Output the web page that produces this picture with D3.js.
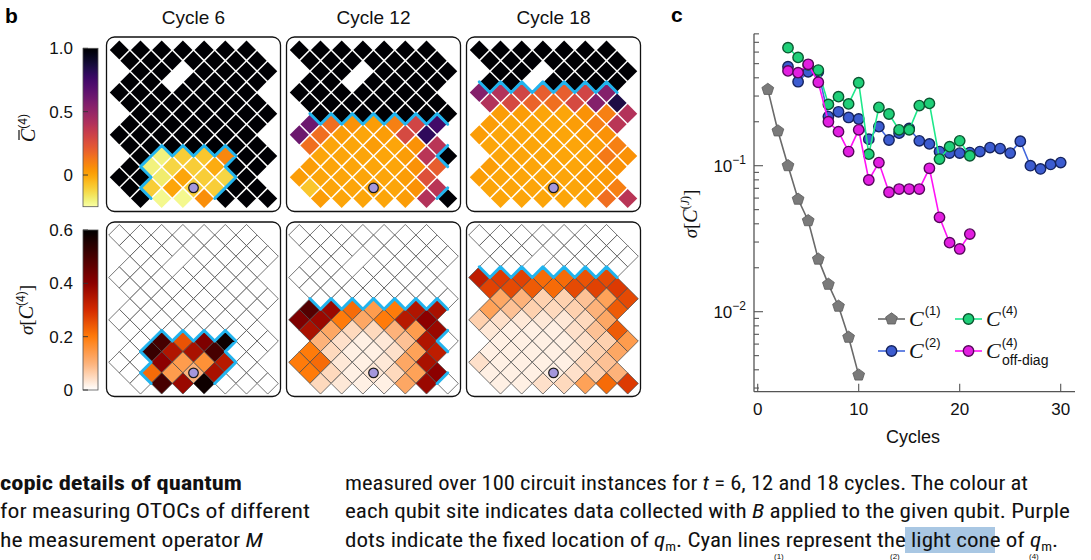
<!DOCTYPE html>
<html><head><meta charset="utf-8">
<script src="https://cdn.jsdelivr.net/npm/d3@7"></script>
<style>body{margin:0;background:#fff}svg{display:block}</style>
</head><body>
<svg id="fig" width="1091" height="560"></svg>
<script>
// ---------------- DATA ----------------
const cycleLabels = ["Cycle 6", "Cycle 12", "Cycle 18"];
// qubit layout: 15 rows x 7 sites, first column index of each row (columns step by 2)
const rowStartCol = [0,1,2,1,0,1,2,1,0,1,2,1,0,1,2];
const missingSites = [[2,6],[3,5]];      // [row, col]
const measureQubit = [13,7];              // [row, col]

// light cone masks (row strings, one char per site)
const lightCone6  = ["0000000","0000000","0000000","0000000","0000000","0000000","0000000","0000000","0000000","0000000","0111100","0111100","0011110","0111100","0111000"];
const lightCone12 = ["0000000","0000000","0000000","0000000","0000000","0000000","0000000","1111111","1111111","1111111","1111110","1111111","1111111","1111111","1111110"];
const lightCone18 = ["0000000","0000000","0000000","0000000","1111111","1111111","1111111","1111111","1111111","1111111","1111111","1111111","1111111","1111111","1111111"];

// mean C(4) per site
const meanC4_cycle6 = [
 [1,1,1,1,1,1,1],[1,1,1,1,1,1,1],[1,1,null,1,1,1,1],[1,1,null,1,1,1,1],[1,1,1,1,1,1,1],
 [1,1,1,1,1,1,1],[1,1,1,1,1,1,1],[1,1,1,1,1,1,1],[1,1,1,1,1,1,1],[1,1,1,1,1,1,1],
 [1,-0.2,-0.1,-0.08,0.08,1,1],
 [1,-0.2,-0.12,-0.1,-0.02,1,1],
 [1,1,-0.18,0.0,-0.1,-0.12,1],
 [1,-0.1,0.0,-0.1,-0.1,1,1],
 [1,-0.22,-0.22,0.06,1,1,1]];
const meanC4_cycle12 = [
 [1,1,1,1,1,1,1],[1,1,1,1,1,1,1],[1,1,null,1,1,1,1],[1,1,null,1,1,1,1],[1,1,1,1,1,1,1],
 [1,1,1,1,1,1,1],[1,1,1,1,1,1,1],
 [0.62,0.15,0.05,0.02,0.1,0.3,0.75],
 [0.62,0.15,0.02,0.0,0.02,0.28,0.8],
 [0.15,0.0,0.0,0.02,0.0,0.05,0.38],
 [0.0,0.0,0.0,0.0,0.02,0.38,1],
 [0.02,0.0,0.0,0.0,0.0,0.05,0.2],
 [0.02,0.0,0.0,0.0,0.0,0.02,0.25],
 [-0.08,0.0,0.0,0.0,0.0,0.05,0.38],
 [0.02,0.0,0.0,0.0,0.02,0.4,1]];
const meanC4_cycle18 = [
 [1,1,1,1,1,1,1],[1,1,1,1,1,1,1],[1,1,null,1,1,1,1],[1,1,null,1,1,1,1],
 [0.55,0.4,0.3,0.2,0.2,0.3,0.55],
 [0.4,0.28,0.18,0.15,0.28,0.55,0.85],
 [0.02,0.02,0.0,0.0,0.05,0.1,0.4],
 [0.02,0.0,0.0,0.0,0.02,0.1,0.38],
 [0.02,0.0,0.0,0.0,0.0,0.02,0.05],
 [0.0,0.0,0.0,0.0,0.0,0.02,0.1],
 [0.0,0.0,0.0,0.0,0.0,0.12,0.05],
 [0.02,0.0,0.0,0.0,0.0,0.02,0.05],
 [0.02,0.0,0.0,0.0,0.0,0.02,0.03],
 [0.0,0.0,0.0,0.0,0.0,0.02,0.1],
 [0.0,0.0,0.0,0.0,0.0,0.15,0.38]];

// sigma[C(4)] per site
const sigmaC4_cycle6 = [
 [0,0,0,0,0,0,0],[0,0,0,0,0,0,0],[0,0,null,0,0,0,0],[0,0,null,0,0,0,0],[0,0,0,0,0,0,0],
 [0,0,0,0,0,0,0],[0,0,0,0,0,0,0],[0,0,0,0,0,0,0],[0,0,0,0,0,0,0],[0,0,0,0,0,0,0],
 [0,0.5,0.25,0.42,0.58,0,0],
 [0,0.52,0.35,0.36,0.5,0,0],
 [0,0,0.4,0.14,0.16,0.34,0],
 [0,0.22,0.14,0.1,0.36,0,0],
 [0,0.5,0.38,0.58,0,0,0]];
const sigmaC4_cycle12 = [
 [0,0,0,0,0,0,0],[0,0,0,0,0,0,0],[0,0,null,0,0,0,0],[0,0,null,0,0,0,0],[0,0,0,0,0,0,0],
 [0,0,0,0,0,0,0],[0,0,0,0,0,0,0],
 [0.48,0.38,0.22,0.14,0.2,0.35,0.36],
 [0.42,0.38,0.2,0.12,0.2,0.34,0.4],
 [0.36,0.12,0.05,0.05,0.1,0.14,0.38],
 [0.1,0.04,0.02,0.03,0.08,0.35,0],
 [0.2,0.05,0.02,0.02,0.04,0.13,0.33],
 [0.2,0.22,0.03,0.02,0.03,0.12,0.36],
 [0.2,0.05,0.02,0.03,0.05,0.13,0.4],
 [0.05,0.03,0.02,0.02,0.12,0.38,0]];
const sigmaC4_cycle18 = [
 [0,0,0,0,0,0,0],[0,0,0,0,0,0,0],[0,0,null,0,0,0,0],[0,0,null,0,0,0,0],
 [0.33,0.28,0.27,0.22,0.22,0.25,0.26],
 [0.27,0.26,0.24,0.22,0.26,0.27,0.28],
 [0.12,0.1,0.06,0.06,0.08,0.13,0.26],
 [0.13,0.08,0.06,0.05,0.06,0.1,0.24],
 [0.06,0.04,0.03,0.03,0.03,0.05,0.12],
 [0.03,0.02,0.02,0.02,0.04,0.08,0.24],
 [0.02,0.02,0.02,0.02,0.04,0.06,0.14],
 [0.02,0.02,0.02,0.02,0.03,0.06,0.12],
 [0.04,0.02,0.02,0.02,0.02,0.05,0.08],
 [0.02,0.02,0.02,0.02,0.04,0.06,0.1],
 [0.02,0.02,0.04,0.05,0.13,0.22,0.28]];

const meanTicks = [0, 0.5, 1.0];
const meanTickLabels = ["0", "0.5", "1.0"];
const sigmaTicks = [0, 0.2, 0.4, 0.6];
const sigmaTickLabels = ["0", "0.2", "0.4", "0.6"];

// panel c
const c1Cycles = [1,2,3,4,5,6,7,8,9,10];
const c1Sigma  = [0.333,0.173,0.1,0.0589,0.042,0.0229,0.0154,0.0109,0.00668,0.00368];
const c2Cycles = [3,4,5,6,7,8,9,10,11,12,13,14,15,16,17,18,19,20,21,22,23,24,25,26,27,28,29,30];
const c2Sigma  = [0.476,0.376,0.44,0.44,0.217,0.234,0.214,0.209,0.152,0.185,0.15,0.167,0.18,0.148,0.141,0.125,0.122,0.122,0.123,0.125,0.133,0.131,0.122,0.147,0.1,0.095,0.102,0.105];
const c4Cycles = [3,4,5,6,7,8,9,10,11,12,13,14,15,16,17,18,19,20,21];
const c4Sigma  = [0.643,0.552,0.49,0.452,0.263,0.297,0.265,0.37,0.12,0.251,0.226,0.176,0.176,0.258,0.267,0.111,0.135,0.148,0.117];
const offCycles = [3,4,5,6,7,8,9,10,11,12,13,14,15,16,17,18,19,20,21];
const offSigma  = [0.446,0.434,0.495,0.373,0.2,0.171,0.125,0.176,0.0798,0.105,0.0658,0.0692,0.0692,0.0692,0.096,0.0443,0.0297,0.0269,0.034];
const xTicksC = [0,10,20,30];
const yMajorC = [0.01, 0.1];

// ---------------- DRAW ----------------
const svg = d3.select('#fig');
const SANS = "'Liberation Sans', Arial, Helvetica, sans-serif";
const SERIF = "'Liberation Serif', 'DejaVu Serif', serif";
const CYAN = '#22b4ee';

const meanColor = v => d3.interpolateInferno(Math.max(0, Math.min(1, (1 - v) / 1.25)));
const sigmaColor = d3.scaleLinear()
  .domain([0, 0.1, 0.2, 0.3, 0.4, 0.5, 0.6])
  .range(['#ffffff', '#fdb27a', '#ff7b0a', '#d42a00', '#8c0000', '#460000', '#000000'])
  .clamp(true);

// panel letters
svg.append('text').attr('x', 5).attr('y', 23).attr('font-family', SANS).attr('font-weight', 'bold').attr('font-size', 21).text('b');
svg.append('text').attr('x', 671).attr('y', 22).attr('font-family', SANS).attr('font-weight', 'bold').attr('font-size', 21).text('c');

const h = 10.6;
const boxW = 174, boxH = 174.5;
const boxX = [106.5, 286.5, 466.5];
const boxY = [37, 222];

function validSite(r, c) {
  if (r < 0 || r > 14) return false;
  const d = c - rowStartCol[r];
  return d >= 0 && d <= 12 && d % 2 === 0;
}

function drawPanel(values, cone, kind, bx, by) {
  const g = svg.append('g');
  const cx = bx + boxW / 2, cy = by + boxH / 2;
  const xs = d3.scaleLinear().domain([0, 14]).range([cx - 7 * h, cx + 7 * h]);
  const ys = d3.scaleLinear().domain([0, 14]).range([cy - 7 * h, cy + 7 * h]);
  g.append('rect').attr('x', bx).attr('y', by).attr('width', boxW).attr('height', boxH)
    .attr('rx', 8).attr('fill', '#fff').attr('stroke', '#111').attr('stroke-width', 1.3);
  const sites = [];
  values.forEach((row, r) => row.forEach((v, k) => {
    if (v === null) return;
    sites.push({ r, k, c: rowStartCol[r] + 2 * k, v });
  }));
  const hd = kind === 'mean' ? h - 1.05 : h;
  g.selectAll('path.cell').data(sites).join('path')
    .attr('d', d => {
      const x = xs(d.c), y = ys(d.r);
      return `M${x},${y - hd}L${x + hd},${y}L${x},${y + hd}L${x - hd},${y}Z`;
    })
    .attr('fill', d => kind === 'mean' ? meanColor(d.v) : sigmaColor(d.v))
    .attr('stroke', kind === 'mean' ? 'none' : '#4a4a4a')
    .attr('stroke-width', 0.75);
  // light cone boundary
  const inCone = (r, c) => validSite(r, c) && cone[r][(c - rowStartCol[r]) / 2] === '1';
  let p = '';
  for (let r = 0; r < 15; r++) for (let k = 0; k < 7; k++) {
    if (cone[r][k] !== '1') continue;
    const c = rowStartCol[r] + 2 * k;
    const x = xs(c), y = ys(r);
    const T = [x, y - h], R = [x + h, y], B = [x, y + h], L = [x - h, y];
    const edges = [[-1, 1, T, R], [-1, -1, L, T], [1, 1, R, B], [1, -1, B, L]];
    edges.forEach(([dr, dc, a, b]) => {
      if (validSite(r + dr, c + dc) && !inCone(r + dr, c + dc)) p += `M${a}L${b}`;
    });
  }
  g.append('path').attr('d', p).attr('fill', 'none').attr('stroke', CYAN)
    .attr('stroke-width', 3).attr('stroke-linecap', 'round').attr('stroke-linejoin', 'round');
  // measurement qubit
  g.append('circle').attr('cx', xs(measureQubit[1])).attr('cy', ys(measureQubit[0])).attr('r', 4.8)
    .attr('fill', '#a497dc').attr('stroke', '#1a1a1a').attr('stroke-width', 1.2);
}

const meanSets = [meanC4_cycle6, meanC4_cycle12, meanC4_cycle18];
const sigmaSets = [sigmaC4_cycle6, sigmaC4_cycle12, sigmaC4_cycle18];
const cones = [lightCone6, lightCone12, lightCone18];
for (let i = 0; i < 3; i++) {
  drawPanel(meanSets[i], cones[i], 'mean', boxX[i], boxY[0]);
  drawPanel(sigmaSets[i], cones[i], 'sigma', boxX[i], boxY[1]);
  svg.append('text').attr('x', boxX[i] + boxW / 2).attr('y', 24).attr('text-anchor', 'middle')
    .attr('font-family', SANS).attr('font-size', 19).attr('fill', '#111').text(cycleLabels[i]);
}

// colorbars
const defs = svg.append('defs');
function colorbar(id, scaleY, colorFn, domain, ticks, labels, x, w) {
  const grad = defs.append('linearGradient').attr('id', id).attr('x1', 0).attr('y1', 1).attr('x2', 0).attr('y2', 0);
  d3.range(0, 1.0001, 0.02).forEach(t => {
    grad.append('stop').attr('offset', t).attr('stop-color', colorFn(domain[0] + t * (domain[1] - domain[0])));
  });
  const y0 = scaleY(domain[1]), y1 = scaleY(domain[0]);
  svg.append('rect').attr('x', x).attr('y', y0).attr('width', w).attr('height', y1 - y0)
    .attr('fill', `url(#${id})`).attr('stroke', '#555').attr('stroke-width', 0.8);
  ticks.forEach((t, i) => {
    const y = scaleY(t);
    svg.append('line').attr('x1', x).attr('x2', x + 5).attr('y1', y).attr('y2', y).attr('stroke', '#333').attr('stroke-width', 0.9);
    svg.append('text').attr('x', 73).attr('y', y + 6).attr('text-anchor', 'end')
      .attr('font-family', SANS).attr('font-size', 17).attr('fill', '#111').text(labels[i]);
  });
}
const yMeanBar = d3.scaleLinear().domain([-0.25, 1.0]).range([206.7, 48.3]);
const ySigmaBar = d3.scaleLinear().domain([0, 0.6]).range([390, 230]);
colorbar('gMean', yMeanBar, meanColor, [-0.25, 1.0], meanTicks, meanTickLabels, 83, 15);
colorbar('gSigma', ySigmaBar, v => sigmaColor(v), [0, 0.6], sigmaTicks, sigmaTickLabels, 83, 15);

// rotated colorbar titles
{
  const g = svg.append('g').attr('transform', 'translate(35,128) rotate(-90)');
  const t = g.append('text').attr('text-anchor', 'middle').attr('font-family', SANS).attr('font-size', 17).attr('fill', '#111');
  t.append('tspan').attr('font-family', SERIF).attr('font-style', 'italic').attr('font-size', 20).text('C');
  t.append('tspan').attr('font-size', 12).attr('dy', -8).text('(4)');
  g.append('line').attr('x1', -12).attr('x2', -2).attr('y1', -16).attr('y2', -16).attr('stroke', '#111').attr('stroke-width', 1.2);
}
{
  const g = svg.append('g').attr('transform', 'translate(33,310) rotate(-90)');
  const t = g.append('text').attr('text-anchor', 'middle').attr('font-family', SERIF).attr('font-size', 19).attr('fill', '#111');
  t.append('tspan').attr('font-style', 'italic').text('σ');
  t.append('tspan').text('[');
  t.append('tspan').attr('font-style', 'italic').attr('font-size', 20).text('C');
  t.append('tspan').attr('font-family', SANS).attr('font-size', 12).attr('dy', -8).text('(4)');
  t.append('tspan').attr('dy', 8).text(']');
}

// ---------------- panel c ----------------
const xC = d3.scaleLinear().domain([0, 30]).range([757.7, 1060.7]);
const yC = d3.scaleLog().domain([0.01, 0.1]).range([311.7, 165.7]);
const axisX0 = 754, axisY0 = 391.7;
const gc = svg.append('g');
gc.append('line').attr('x1', axisX0).attr('x2', axisX0).attr('y1', yC(0.8)).attr('y2', axisY0).attr('stroke', '#555').attr('stroke-width', 1.3);
gc.append('line').attr('x1', axisX0).attr('x2', 1075).attr('y1', axisY0).attr('y2', axisY0).attr('stroke', '#555').attr('stroke-width', 1.3);
const yTickVals = d3.scaleLog().domain([0.0029, 0.8]).ticks();
yTickVals.forEach(v => {
  const major = yMajorC.some(m => Math.abs(m - v) < 1e-9);
  const y = yC(v);
  gc.append('line').attr('x1', axisX0).attr('x2', axisX0 + (major ? 9 : 5)).attr('y1', y).attr('y2', y).attr('stroke', '#555').attr('stroke-width', 1.1);
});
yMajorC.forEach(v => {
  const t = gc.append('text').attr('x', 746).attr('y', yC(v) + 6).attr('text-anchor', 'end')
    .attr('font-family', SANS).attr('font-size', 17).attr('fill', '#111');
  t.append('tspan').text('10');
  t.append('tspan').attr('font-size', 12).attr('dy', -8).text('−' + Math.round(-Math.log10(v)));
});
xTicksC.forEach(v => {
  gc.append('line').attr('x1', xC(v)).attr('x2', xC(v)).attr('y1', axisY0).attr('y2', axisY0 - 8).attr('stroke', '#555').attr('stroke-width', 1.1);
  gc.append('text').attr('x', xC(v)).attr('y', 415).attr('text-anchor', 'middle')
    .attr('font-family', SANS).attr('font-size', 17).attr('fill', '#111').text(v);
});
gc.append('text').attr('x', 913).attr('y', 443).attr('text-anchor', 'middle')
  .attr('font-family', SANS).attr('font-size', 18).attr('fill', '#111').text('Cycles');
{
  const g = svg.append('g').attr('transform', 'translate(697,214) rotate(-90)');
  const t = g.append('text').attr('text-anchor', 'middle').attr('font-family', SERIF).attr('font-size', 19).attr('fill', '#111');
  t.append('tspan').attr('font-style', 'italic').text('σ');
  t.append('tspan').text('[');
  t.append('tspan').attr('font-style', 'italic').attr('font-size', 20).text('C');
  t.append('tspan').attr('font-size', 12).attr('dy', -8).text('(');
  t.append('tspan').attr('font-size', 12).attr('font-style', 'italic').text('J');
  t.append('tspan').attr('font-size', 12).text(')');
  t.append('tspan').attr('dy', 8).text(']');
}

function pentagonPath(r) {
  const pts = d3.range(5).map(i => {
    const a = -Math.PI / 2 + i * 2 * Math.PI / 5;
    return [r * Math.cos(a), r * Math.sin(a)];
  });
  return 'M' + pts.join('L') + 'Z';
}
const series = [
  { xs: c1Cycles, ys: c1Sigma, line: '#6a6a6a', fill: '#7a7a7a', stroke: '#5a5a5a', shape: 'pent' },
  { xs: c2Cycles, ys: c2Sigma, line: '#4166dc', fill: '#3c5cd0', stroke: '#15235e', shape: 'circle' },
  { xs: c4Cycles, ys: c4Sigma, line: '#1ee88a', fill: '#1fcf78', stroke: '#0b5530', shape: 'circle' },
  { xs: offCycles, ys: offSigma, line: '#ff12f5', fill: '#e21ee0', stroke: '#55085a', shape: 'circle' }
];
const lineGen = d3.line().x(d => xC(d[0])).y(d => yC(d[1]));
series.forEach(s => {
  const pts = s.xs.map((x, i) => [x, s.ys[i]]);
  gc.append('path').attr('d', lineGen(pts)).attr('fill', 'none').attr('stroke', s.line).attr('stroke-width', 1.6);
  pts.forEach(p => {
    if (s.shape === 'pent') {
      gc.append('path').attr('d', pentagonPath(6.2)).attr('transform', `translate(${xC(p[0])},${yC(p[1])})`)
        .attr('fill', s.fill).attr('stroke', s.stroke).attr('stroke-width', 0.8);
    } else {
      gc.append('circle').attr('cx', xC(p[0])).attr('cy', yC(p[1])).attr('r', 5.2)
        .attr('fill', s.fill).attr('stroke', s.stroke).attr('stroke-width', 1.4);
    }
  });
});

// legend
const legendItems = [
  { s: series[0], x: 878, y: 319, sup: '(1)', sub: '' },
  { s: series[2], x: 955, y: 319, sup: '(4)', sub: '' },
  { s: series[1], x: 878, y: 351, sup: '(2)', sub: '' },
  { s: series[3], x: 955, y: 351, sup: '(4)', sub: 'off-diag' }
];
legendItems.forEach(it => {
  gc.append('line').attr('x1', it.x).attr('x2', it.x + 27).attr('y1', it.y).attr('y2', it.y).attr('stroke', it.s.line).attr('stroke-width', 1.6);
  if (it.s.shape === 'pent') {
    gc.append('path').attr('d', pentagonPath(6.2)).attr('transform', `translate(${it.x + 13.5},${it.y})`)
      .attr('fill', it.s.fill).attr('stroke', it.s.stroke).attr('stroke-width', 0.8);
  } else {
    gc.append('circle').attr('cx', it.x + 13.5).attr('cy', it.y).attr('r', 5.2)
      .attr('fill', it.s.fill).attr('stroke', it.s.stroke).attr('stroke-width', 1.4);
  }
  const t = gc.append('text').attr('x', it.x + 31).attr('y', it.y + 7).attr('font-family', SERIF).attr('font-size', 22).attr('fill', '#111');
  t.append('tspan').attr('font-style', 'italic').text('C');
  t.append('tspan').attr('font-family', SANS).attr('font-size', 13).attr('dy', -11).attr('dx', 1).text(it.sup);
  if (it.sub) {
    gc.append('text').attr('x', it.x + 47).attr('y', it.y + 14).attr('font-family', SANS).attr('font-size', 14).attr('fill', '#111').text(it.sub);
  }
});

// ---------------- caption text ----------------
const CAP = "'Liberation Sans Narrow', 'Roboto Condensed', 'Liberation Sans', sans-serif";
svg.append('rect').attr('x', 905).attr('y', 527).attr('width', 90).attr('height', 26).attr('fill', '#a9c7e3');
function capLine(x, y, len, parts, bold) {
  const t = svg.append('text').attr('x', x).attr('y', y).attr('font-family', CAP).attr('font-size', 21)
    .attr('fill', '#111').attr('textLength', len).attr('lengthAdjust', 'spacingAndGlyphs');
  if (bold) t.attr('font-weight', 'bold');
  parts.forEach(p => {
    const s = t.append('tspan').text(p.t);
    if (p.i) s.attr('font-style', 'italic');
    if (p.sub) s.attr('font-size', 13).attr('dy', 4);
    if (p.up) s.attr('dy', -4);
  });
}
capLine(0, 490, 242, [{ t: 'copic details of quantum' }], true);
capLine(0, 518, 310, [{ t: 'for measuring OTOCs of different' }]);
capLine(0, 547, 263, [{ t: 'he measurement operator ' }, { t: 'M', i: true }]);
capLine(345, 490, 683, [{ t: 'measured over 100 circuit instances for ' }, { t: 't', i: true }, { t: ' = 6, 12 and 18 cycles. The colour at' }]);
capLine(345, 518, 725, [{ t: 'each qubit site indicates data collected with ' }, { t: 'B', i: true }, { t: ' applied to the given qubit. Purple' }]);
capLine(345, 547, 713, [{ t: 'dots indicate the fixed location of ' }, { t: 'q', i: true }, { t: 'm', sub: true }, { t: '. Cyan lines represent the light cone of ', up: true }, { t: 'q', i: true }, { t: 'm', sub: true }, { t: '.', up: true }]);
[[774, '(1)'], [890, '(2)'], [1029, '(4)']].forEach(([x, s]) => {
  svg.append('text').attr('x', x).attr('y', 559).attr('font-family', SANS).attr('font-size', 8).attr('fill', '#111').text(s);
});
</script>
</body></html>
